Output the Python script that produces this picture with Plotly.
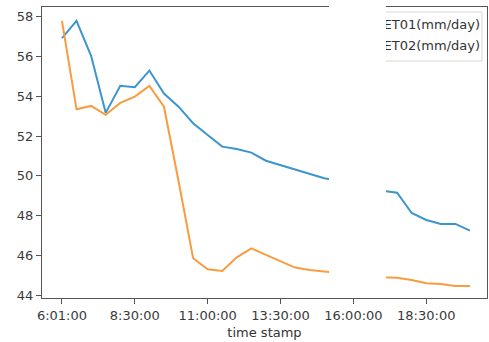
import plotly.graph_objects as go

times = ["6:01:00"] + [f"{6 + (m // 60)}:{m % 60:02d}:00" for m in range(30, 14 * 60 + 1, 30)]
et01 = [56.93, 57.80, 56.04, 53.17, 54.53, 54.46, 55.30, 54.14, 53.48, 52.65,
        52.06, 51.47, 51.35, 51.17, 50.76, 50.54, 50.32, 50.10, 49.88,
        49.75, 49.60, 49.45, 49.25, 49.15, 48.13, 47.78, 47.58, 47.58, 47.24]
et02 = [57.80, 53.35, 53.52, 53.07, 53.67, 53.99, 54.53, 53.48, 49.74, 45.85,
        45.30, 45.21, 45.90, 46.35, 46.02, 45.72, 45.38, 45.26, 45.18,
        45.10, 45.02, 44.96, 44.90, 44.87, 44.76, 44.59, 44.56, 44.46, 44.46]
series_names = ["ET01(mm/day)", "ET02(mm/day)"]
tick_labels = ["6:01:00", "8:30:00", "11:00:00", "13:30:00", "16:00:00", "18:30:00"]
y_ticks = [44, 46, 48, 50, 52, 54, 56, 58]

W, H = 489, 342
L, R, T, B = 42, 487, 7, 298  # plot area in pixels


def px(x):
    return (x - L) / (R - L)


def py(y):
    return (B - y) / (B - T)


fig = go.Figure()
fig.add_trace(go.Scatter(x=times, y=et01, mode="lines", name=series_names[0],
                         line=dict(color="#3d95cf", width=2), showlegend=False))
fig.add_trace(go.Scatter(x=times, y=et02, mode="lines", name=series_names[1],
                         line=dict(color="#f99c40", width=2), showlegend=False))

# legend labels as a text trace on an overlay axis (so the mask can cover them)
fig.add_trace(go.Scatter(x=[px(480), px(480)], y=[py(26), py(47)], mode="text",
                         text=series_names, textposition="middle left",
                         textfont=dict(family="DejaVu Sans", size=13, color="#333333"),
                         xaxis="x2", yaxis="y2", showlegend=False, hoverinfo="skip",
                         cliponaxis=False))

axis_common = dict(showline=True, linecolor="#555555", linewidth=1, mirror=True,
                   ticks="outside", ticklen=5, tickcolor="#555555", showgrid=False,
                   zeroline=False,
                   tickfont=dict(family="DejaVu Sans", size=13, color="#3a3a3a"))

fig.update_layout(
    width=W, height=H,
    margin=dict(l=L, r=W - R, t=T, b=H - B, autoexpand=False),
    paper_bgcolor="white", plot_bgcolor="white",
    xaxis=dict(type="category", range=[-1.37, 29.17], tickmode="array",
               tickvals=tick_labels, ticktext=tick_labels,
               title=dict(text="time stamp", standoff=6,
                          font=dict(family="DejaVu Sans", size=13, color="#333333")),
               **axis_common),
    yaxis=dict(range=[43.85, 58.5], tickmode="array", tickvals=y_ticks, **axis_common),
    xaxis2=dict(overlaying="x", range=[0, 1], visible=False),
    yaxis2=dict(overlaying="y", range=[0, 1], visible=False),
    shapes=[
        # legend frame
        dict(type="rect", xref="paper", yref="paper", layer="below",
             x0=px(340), x1=px(482), y0=py(61), y1=py(12),
             line=dict(color="#d6d6d6", width=1), fillcolor="white"),
        # white mask covering part of the chart
        dict(type="rect", xref="paper", yref="paper", layer="above",
             x0=px(329), x1=px(386), y0=py(279.5), y1=py(-2),
             line=dict(width=0), fillcolor="white"),
    ],
)

fig.write_html("out.html", config={"displayModeBar": False},
               post_script="document.body.style.margin='0';document.body.style.overflow='hidden';")
